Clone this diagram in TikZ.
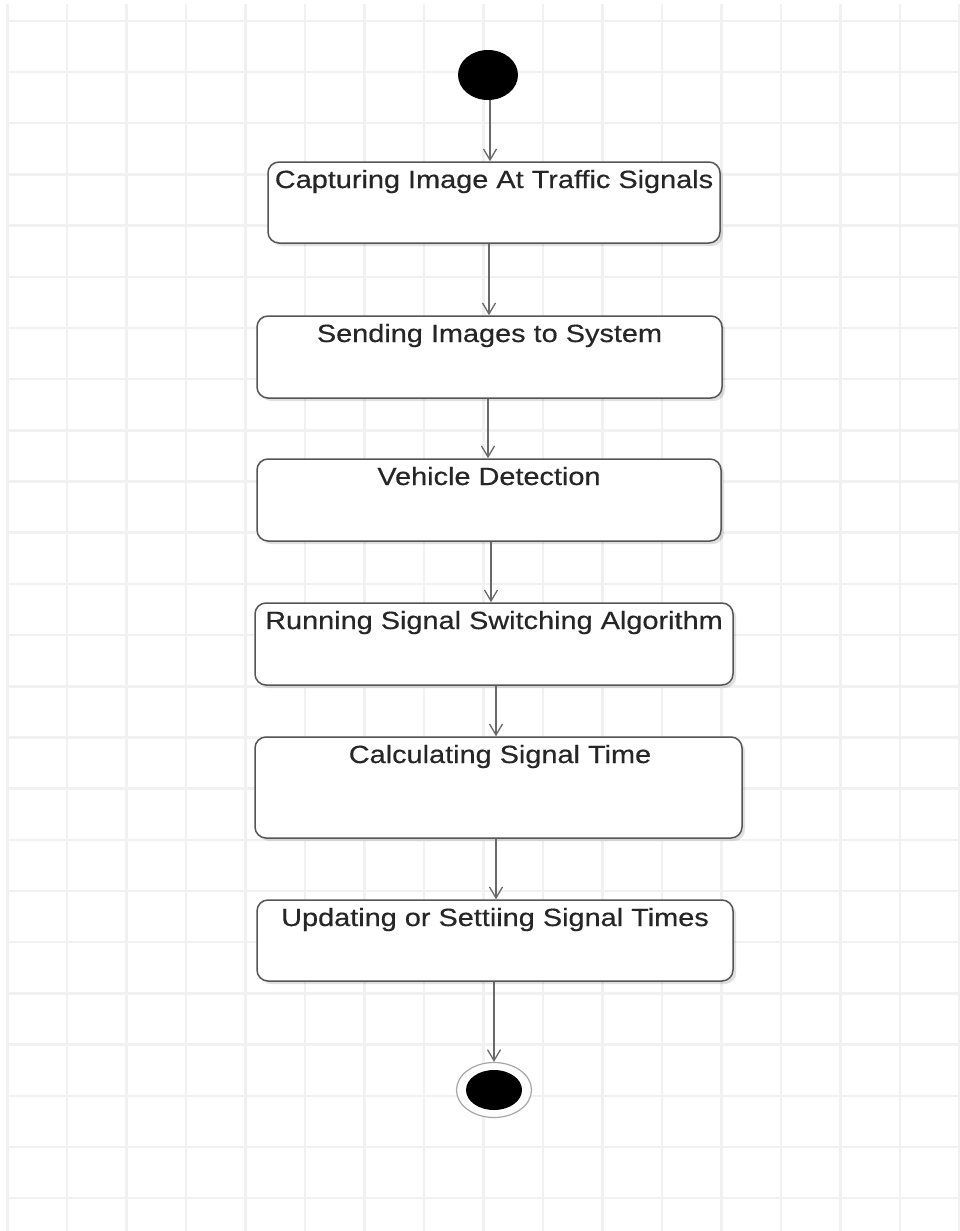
\documentclass[tikz,border=0pt]{standalone}
\usepackage{fontspec}
\newfontfamily\labelfont[FakeStretch=1.16,FakeBold=0.4]{Liberation Sans}
\usetikzlibrary{arrows.meta,shapes.geometric,shadows}
\definecolor{gridline}{RGB}{241,241,241}
\definecolor{boxline}{RGB}{85,85,85}
\definecolor{flowline}{RGB}{105,105,105}
\definecolor{labeltext}{RGB}{38,38,38}
\tikzset{
  activity/.style={draw=boxline, line width=1.5pt, rounded corners=11pt, fill=white,
    inner sep=0pt,
    drop shadow={shadow xshift=3pt, shadow yshift=-3pt, opacity=0.12, fill=black}},
  steptext/.style={anchor=base, inner sep=0pt, text=labeltext,
    font=\labelfont\fontsize{24.9pt}{28pt}\selectfont},
  flow/.style={draw=flowline, line width=1.3pt,
    -{Straight Barb[length=11pt,width=13pt,line width=1.3pt]}},
  startdot/.style={ellipse, fill=black, minimum width=60pt, minimum height=50pt, inner sep=0pt},
  endring/.style={ellipse, draw=gray!70, line width=1.2pt, fill=white,
    minimum width=75pt, minimum height=55pt, inner sep=0pt},
  enddot/.style={ellipse, fill=black, minimum width=56pt, minimum height=40pt, inner sep=0pt}
}
\begin{document}
\begin{tikzpicture}[x=1pt,y=-1pt]
\useasboundingbox (0,0) rectangle (960,1231);
\fill[white] (0,0) rectangle (960,1231);

% background grid
\foreach \k in {0,...,23}
  \draw[gridline, line width=2.5pt] (8,20.8+51.19*\k) -- (960,20.8+51.19*\k);
\foreach \k in {0,...,16}
  \draw[gridline, line width=2.5pt] (7.5+59.5*\k,4) -- (7.5+59.5*\k,1231);

% start and end states
\node[startdot] (start) at (488,75) {};
\node[endring] (endo) at (494,1090) {};
\node[enddot] (endi) at (494,1090) {};

% activities
\node[activity, minimum width=452pt, minimum height=81pt]  (b1) at (494,202.5) {};
\node[activity, minimum width=465pt, minimum height=82pt]  (b2) at (489.5,357) {};
\node[activity, minimum width=464pt, minimum height=82pt]  (b3) at (489,500) {};
\node[activity, minimum width=478pt, minimum height=82pt]  (b4) at (494,644) {};
\node[activity, minimum width=487pt, minimum height=101pt] (b5) at (498.5,787.5) {};
\node[activity, minimum width=476pt, minimum height=81pt]  (b6) at (495,940.5) {};

\node[steptext] (t1) at (494,188) {Capturing Image At Traffic Signals};
\node[steptext] (t2) at (489.5,342) {Sending Images to System};
\node[steptext] (t3) at (489,485) {Vehicle Detection};
\node[steptext] (t4) at (494,629) {Running Signal Switching Algorithm};
\node[steptext] (t5) at (500,763) {Calculating Signal Time};
\node[steptext] (t6) at (495,926) {Updating or Settiing Signal Times};

% columns of the transitions
\coordinate (c0) at (490,0);
\coordinate (c1) at (489,0);
\coordinate (c2) at (488,0);
\coordinate (c3) at (491,0);
\coordinate (c4) at (496,0);
\coordinate (c5) at (496,0);
\coordinate (c6) at (494,0);

% transitions
\draw[flow] (start.south -| c0) -- (b1.north -| c0);
\draw[flow] (b1.south -| c1) -- (b2.north -| c1);
\draw[flow] (b2.south -| c2) -- (b3.north -| c2);
\draw[flow] (b3.south -| c3) -- (b4.north -| c3);
\draw[flow] (b4.south -| c4) -- (b5.north -| c4);
\draw[flow] (b5.south -| c5) -- (b6.north -| c5);
\draw[flow] (b6.south -| c6) -- (endo.north);
\end{tikzpicture}
\end{document}
